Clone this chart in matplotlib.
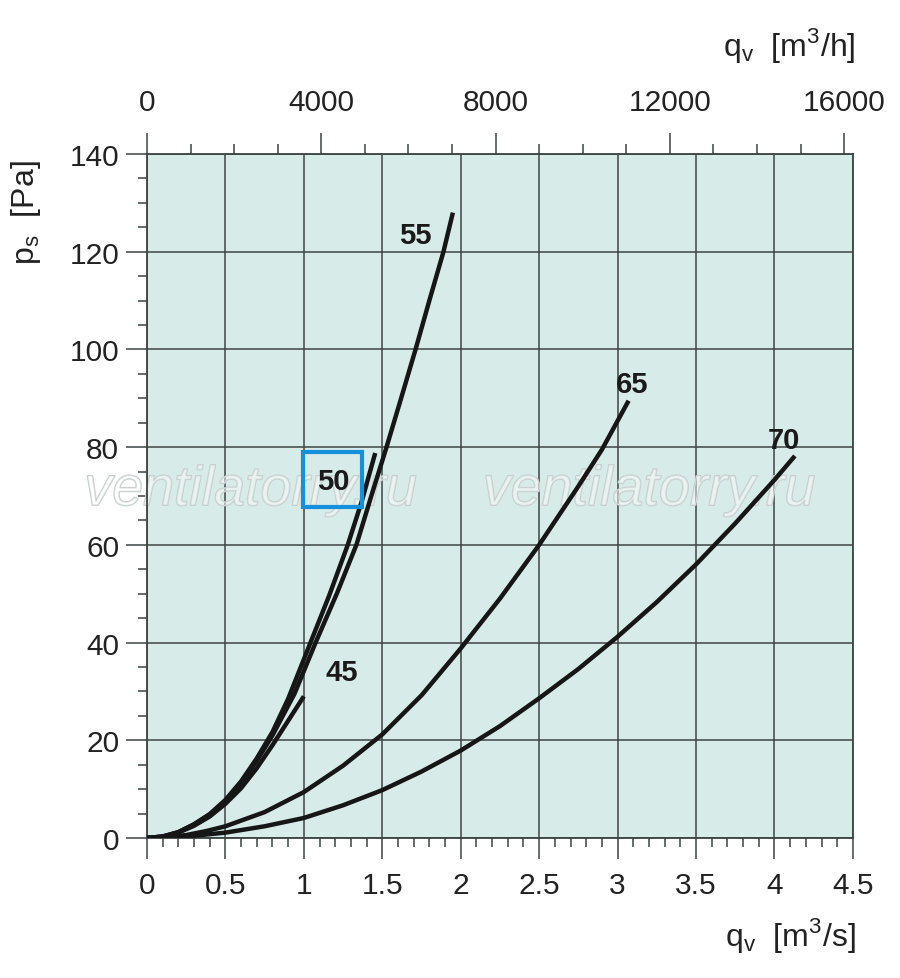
import matplotlib
matplotlib.use("Agg")
import matplotlib.pyplot as plt
import matplotlib.patheffects as pe
from matplotlib.patches import Rectangle
from matplotlib.ticker import MultipleLocator

plt.rcParams["font.family"] = ["Liberation Sans", "DejaVu Sans"]
plt.rcParams["mathtext.fontset"] = "custom"
plt.rcParams["mathtext.rm"] = "Liberation Sans"

# flow q [m3/s] and static pressure p [Pa]
q45 = [0, 0.1, 0.2, 0.3, 0.4, 0.5, 0.6, 0.7, 0.8, 0.9, 1.0]
p45 = [0, 0.3, 1.1, 2.5, 4.4, 7.0, 10.2, 14.3, 19, 24, 29]

q50 = [0, 0.1, 0.2, 0.3, 0.4, 0.5, 0.6, 0.7, 0.8, 0.9, 1.03, 1.16, 1.28, 1.37, 1.455]
p50 = [0, 0.3, 1.2, 2.8, 4.9, 7.8, 11.6, 16.3, 21.7, 28.5, 39, 49.5, 60, 69, 78.8]

q55 = [0, 0.1, 0.2, 0.3, 0.4, 0.5, 0.6, 0.7, 0.8, 0.94, 1.075, 1.21, 1.335, 1.43,
       1.527, 1.62, 1.712, 1.80, 1.89, 1.95]
p55 = [0, 0.3, 1.2, 2.8, 4.8, 7.6, 11.2, 15.8, 21, 29.5, 40, 50, 60, 70,
       80, 90, 100, 110, 120, 128]

q65 = [0, 0.125, 0.25, 0.375, 0.5, 0.75, 1.0, 1.25, 1.5, 1.75, 2.0, 2.25, 2.5, 2.75, 2.9, 3.07]
p65 = [0, 0.15, 0.6, 1.4, 2.4, 5.3, 9.4, 14.8, 21.2, 29.2, 38.8, 49, 60, 72, 79.5, 89.5]

q70 = [0, 0.25, 0.5, 0.75, 1.0, 1.25, 1.5, 1.75, 2.0, 2.25, 2.5, 2.75, 3.0, 3.25, 3.5, 3.75, 4.0, 4.13]
p70 = [0, 0.3, 1.1, 2.4, 4.1, 6.7, 9.8, 13.6, 17.9, 22.9, 28.6, 34.6, 41.2, 48.3, 56, 64.4, 73.3, 78.2]

curves = [("45", q45, p45), ("50", q50, p50), ("55", q55, p55),
          ("65", q65, p65), ("70", q70, p70)]

# label positions (q, p)
label_pos = {"45": (1.24, 34), "50": (1.185, 73), "55": (1.71, 123.5),
             "65": (3.09, 93), "70": (4.06, 81.5)}

bg = "#d7ebe9"
grid_col = "#3c4444"
txt_col = "#222222"

fig = plt.figure(figsize=(9.0, 9.79), dpi=100)
ax = fig.add_axes([0.1633, 0.1430, 0.7844, 0.6987])
ax.set_facecolor(bg)
ax.set_xlim(0, 4.5)
ax.set_ylim(0, 140)

ax.xaxis.set_minor_locator(MultipleLocator(0.1))
ax.yaxis.set_major_locator(MultipleLocator(20))
ax.yaxis.set_minor_locator(MultipleLocator(5))
ax.set_xticks([0, 0.5, 1, 1.5, 2, 2.5, 3, 3.5, 4, 4.5])
ax.set_xticklabels(["0", "0.5", "1", "1.5", "2", "2.5", "3", "3.5", "4", "4.5"])
ax.grid(True, which="major", color=grid_col, lw=1.1)
ax.tick_params(which="major", direction="out", length=15, width=1.1,
               color=grid_col, labelsize=21.5, labelcolor=txt_col)
ax.tick_params(axis="x", which="major", pad=9)
ax.tick_params(axis="y", which="major", pad=5)
ax.tick_params(which="minor", direction="out", length=6.5, width=1.1, color=grid_col)
for s in ax.spines.values():
    s.set_color(grid_col)
    s.set_linewidth(1.3)

for name, q, p in curves:
    ax.plot(q, p, color="#161616", lw=3.2, solid_capstyle="butt", zorder=3)
    lx, ly = label_pos[name]
    ax.text(lx, ly, name, fontsize=21, fontweight="bold", color="#1a1a1a",
            ha="center", va="center", zorder=4)

# highlight box around "50"
ax.add_patch(Rectangle((0.995, 67.8), 0.375, 11.2, fill=False,
                       edgecolor="#1590dc", lw=3, zorder=5))

# watermark, faint outline under the curves
for wx in [0.66, 3.2]:
    ax.text(wx, 71, "ventilatorry.ru", fontsize=40, style="italic",
            color=(1, 1, 1, 0.2), ha="center", va="center", zorder=2.5,
            clip_on=False,
            path_effects=[pe.withStroke(linewidth=1.1, foreground="#c3cdcc"),
                          pe.Normal()])

# top axis in m3/h
ax2 = ax.twiny()
ax2.set_xlim(0, 4.5 * 3600)
ax2.xaxis.set_major_locator(MultipleLocator(4000))
ax2.xaxis.set_minor_locator(MultipleLocator(1000))
ax2.tick_params(which="major", direction="out", length=15, width=1.1,
                color=grid_col, labelsize=21.5, labelcolor=txt_col, pad=12)
ax2.tick_params(which="minor", direction="out", length=7, width=1.1, color=grid_col)
for s in ax2.spines.values():
    s.set_visible(False)

fig.text(0.951, 0.954, r"q$_\mathregular{v}$  [m$^\mathregular{3}$/h]",
         fontsize=23, ha="right", va="center", color=txt_col)
fig.text(0.951, 0.044, r"q$_\mathregular{v}$  [m$^\mathregular{3}$/s]",
         fontsize=23, ha="right", va="center", color=txt_col)
fig.text(0.029, 0.783, r"p$_\mathregular{s}$  [Pa]", fontsize=23, rotation=90,
         ha="center", va="center", color=txt_col)

fig.savefig("out.png", dpi=100)
